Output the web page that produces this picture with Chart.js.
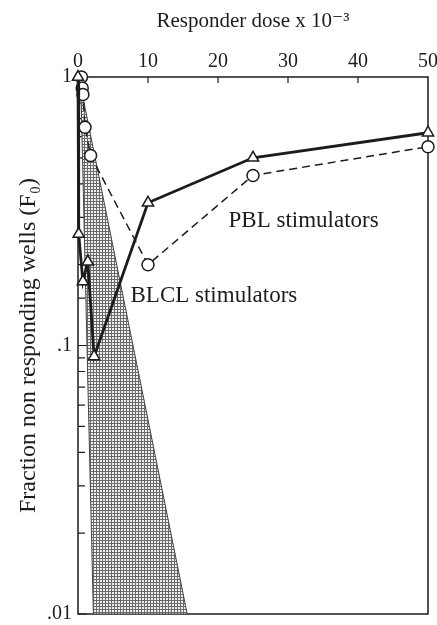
<!DOCTYPE html>
<html>
<head>
<meta charset="utf-8">
<script src="https://cdn.jsdelivr.net/npm/chart.js@4.4.1/dist/chart.umd.min.js"></script>
<style>
  body { margin: 0; background: #fff; }
</style>
</head>
<body>
<canvas id="chart" width="437" height="625"></canvas>
<script>
// PBL stimulators (open circles, dashed line)
const pblDose = [0.5, 0.6, 0.7, 1.0, 1.8, 10, 25, 50];
const pblF0 = [1.0, 0.91, 0.86, 0.65, 0.51, 0.20, 0.43, 0.55];

// BLCL stimulators (open triangles, solid line)
const blclDose = [0, 0.1, 0.7, 1.4, 2.3, 10, 25, 50];
const blclF0 = [1.0, 0.26, 0.173, 0.205, 0.091, 0.34, 0.50, 0.62];

// stippled region
const shadeDose = [0.4, 15.6, 2.2, 0.4];
const shadeF0 = [0.92, 0.01, 0.01, 0.92];

const xTickValues = [0, 10, 20, 30, 40, 50];
const yTickValues = [1, 0.1, 0.01];
const yTickLabels = ['1', '.1', '.01'];

const noteText = ['PBL stimulators', 'BLCL stimulators'];
const noteDose = [21.5, 7.5];
const noteF0 = [0.29, 0.153];

const serif = '"Liberation Serif", "DejaVu Serif", serif';
const ink = '#1c1c1c';

function toPoints(xs, ys) {
  const pts = [];
  for (let i = 0; i < xs.length; i++) pts.push({x: xs[i], y: ys[i]});
  return pts;
}

// fine crosshatch used for the shaded region
function makeStipple() {
  const c = document.createElement('canvas');
  c.width = 3; c.height = 3;
  const g = c.getContext('2d');
  g.fillStyle = '#f0f0f0';
  g.fillRect(0, 0, 3, 3);
  g.fillStyle = '#6a6a6a';
  g.fillRect(0, 0, 3, 1);
  g.fillRect(0, 0, 1, 3);
  return g.createPattern(c, 'repeat');
}

// no label overhang padding, the plot box is fixed by layout.padding
function zeroPad(scale) {
  scale.paddingLeft = 0;
  scale.paddingRight = 0;
  scale.paddingTop = 0;
  scale.paddingBottom = 0;
}

const framePlugin = {
  id: 'frame',
  beforeDatasetsDraw(chart) {
    const {ctx, chartArea: a, scales} = chart;
    ctx.save();
    ctx.strokeStyle = ink;
    ctx.lineWidth = 1.5;
    ctx.strokeRect(a.left, a.top, a.right - a.left, a.bottom - a.top);
    ctx.lineWidth = 1.2;
    ctx.beginPath();
    for (const v of xTickValues) {
      if (v === 0 || v === 50) continue;
      const px = scales.x.getPixelForValue(v);
      ctx.moveTo(px, a.top);
      ctx.lineTo(px, a.top + 6);
    }
    for (const t of scales.y.ticks) {
      const py = scales.y.getPixelForValue(t.value);
      const major = yTickValues.some(v => Math.abs(v - t.value) < 1e-9);
      ctx.moveTo(a.left, py);
      ctx.lineTo(a.left + (major ? 9 : 7), py);
    }
    ctx.stroke();
    ctx.restore();
  },
  afterDraw(chart) {
    const {ctx, scales} = chart;
    ctx.save();
    ctx.fillStyle = ink;
    ctx.font = '23px ' + serif;
    ctx.textBaseline = 'middle';
    for (let i = 0; i < noteText.length; i++) {
      ctx.fillText(noteText[i], scales.x.getPixelForValue(noteDose[i]), scales.y.getPixelForValue(noteF0[i]));
    }
    ctx.restore();
  }
};

new Chart(document.getElementById('chart'), {
  type: 'line',
  data: {
    datasets: [
      {
        label: 'BLCL stimulators',
        data: toPoints(blclDose, blclF0),
        borderColor: ink,
        borderWidth: 2.8,
        pointStyle: 'triangle',
        pointRadius: 6.5,
        pointBorderWidth: 1.5,
        pointBackgroundColor: '#fff',
        pointBorderColor: ink,
        tension: 0,
        clip: false
      },
      {
        label: 'PBL stimulators',
        data: toPoints(pblDose, pblF0),
        borderColor: ink,
        borderWidth: 1.5,
        borderDash: [8, 5],
        pointStyle: 'circle',
        pointRadius: 6,
        pointBorderWidth: 1.5,
        pointBackgroundColor: '#fff',
        pointBorderColor: ink,
        tension: 0,
        clip: false
      },
      {
        label: 'shade',
        data: toPoints(shadeDose, shadeF0),
        borderColor: '#444',
        borderWidth: 1,
        backgroundColor: makeStipple(),
        fill: 'shape',
        pointRadius: 0,
        tension: 0
      }
    ]
  },
  options: {
    responsive: false,
    animation: false,
    layout: { padding: { left: 0, top: 0, right: 9, bottom: 11 } },
    plugins: { legend: { display: false }, tooltip: { enabled: false } },
    scales: {
      x: {
        type: 'linear',
        position: 'top',
        min: 0,
        max: 50,
        afterFit(scale) { scale.height = 77; zeroPad(scale); },
        afterBuildTicks(scale) { scale.ticks = xTickValues.map(v => ({value: v})); },
        grid: { display: false, drawTicks: false },
        border: { display: false },
        ticks: { color: ink, padding: 3, maxRotation: 0, font: { family: serif, size: 20 } },
        title: {
          display: true,
          text: 'Responder dose x 10\u207B\u00B3',
          color: ink,
          padding: { top: 9, bottom: 0 },
          font: { family: serif, size: 21 }
        }
      },
      y: {
        type: 'logarithmic',
        min: 0.01,
        max: 1,
        afterFit(scale) { scale.width = 78; zeroPad(scale); },
        grid: { display: false, drawTicks: false },
        border: { display: false },
        ticks: {
          color: ink,
          padding: 6,
          autoSkip: false,
          font: { family: serif, size: 20 },
          callback(value) {
            for (let i = 0; i < yTickValues.length; i++) {
              if (Math.abs(yTickValues[i] - value) < 1e-9) return yTickLabels[i];
            }
            return '';
          }
        },
        title: {
          display: true,
          text: 'Fraction non responding wells (F\u2080)',
          color: ink,
          padding: { top: 14, bottom: 0 },
          font: { family: serif, size: 24 }
        }
      }
    }
  },
  plugins: [framePlugin]
});
</script>
</body>
</html>
